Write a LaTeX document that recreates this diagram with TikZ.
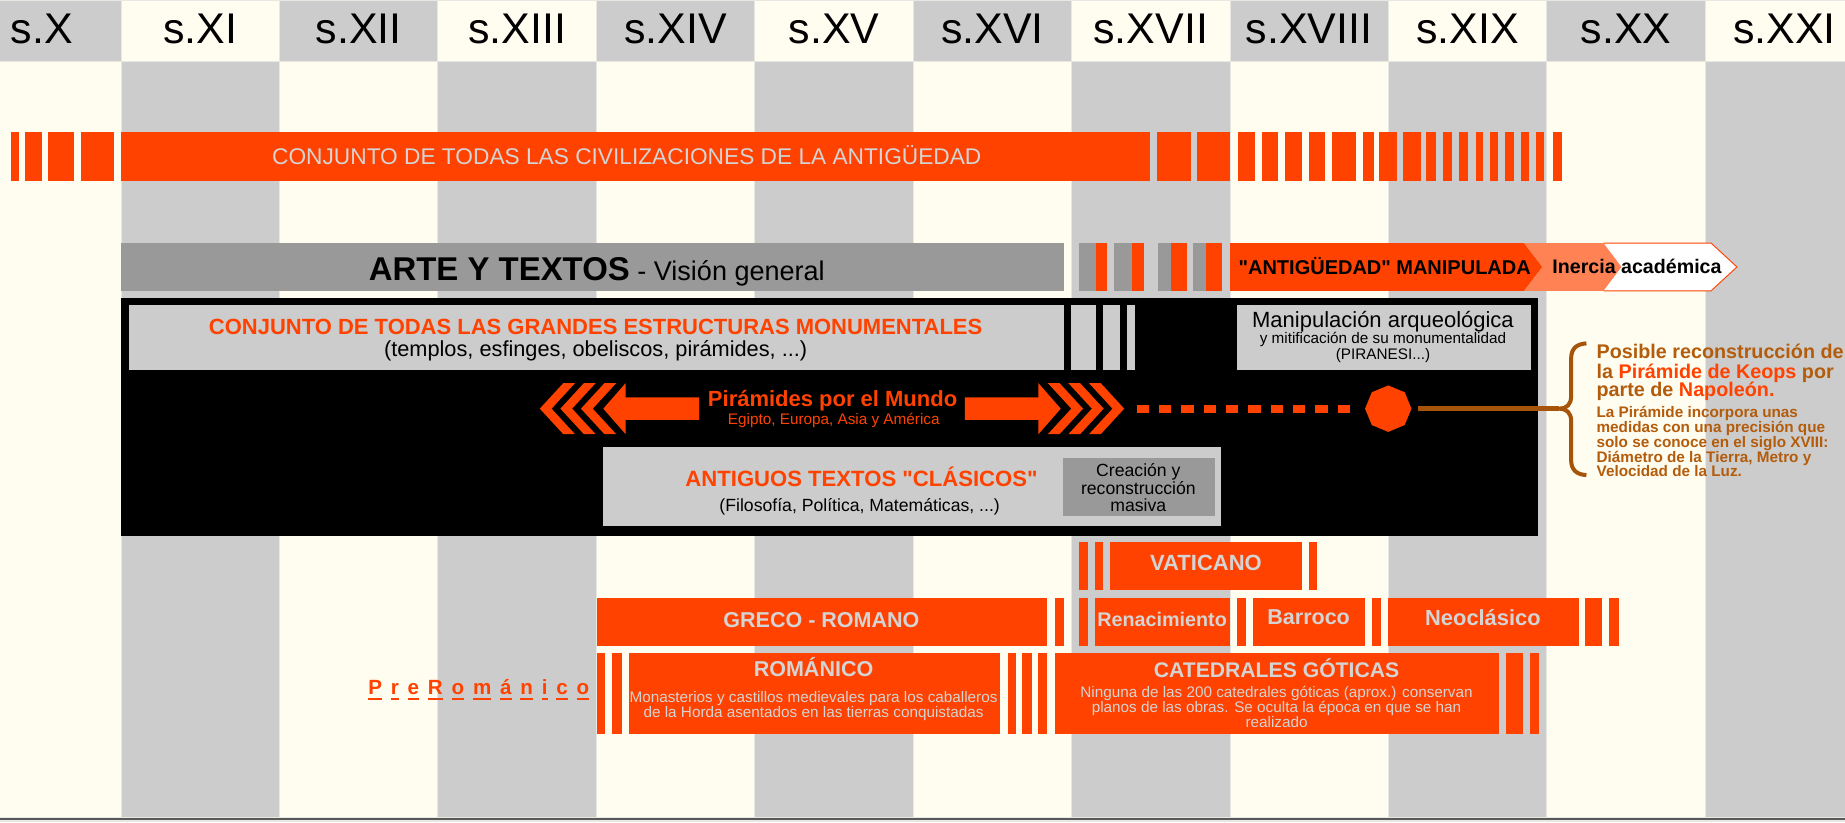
\documentclass[tikz,border=0pt]{standalone}
\usepackage{fontspec}
\setmainfont{Liberation Sans}
\usetikzlibrary{shapes.geometric}

\definecolor{cream}{RGB}{255,252,240}
\definecolor{lgray}{RGB}{204,204,204}
\definecolor{mgray}{RGB}{153,153,153}
\definecolor{orng}{RGB}{255,66,0}
\definecolor{lorng}{RGB}{255,130,85}
\definecolor{pale}{RGB}{212,212,212}
\definecolor{sep}{RGB}{232,232,226}
\definecolor{brn}{RGB}{166,84,10}
\definecolor{brntxt}{RGB}{178,92,12}

\newcommand\fsz[1]{\fontsize{#1}{#1}\selectfont}
\newcommand\ulet[1]{\setbox0\hbox{#1}\rlap{\vrule width\wd0 height -2.8pt depth 4.6pt}\box0}

\begin{document}
\begin{tikzpicture}[
                        x=1pt, y=-1pt,
                        bar/.style={fill=orng},
                        lbl/.style={anchor=base, inner sep=0pt},
                        ontxt/.style={lbl, text=pale, font=\bfseries\fsz{18.3}},
                        smalltxt/.style={lbl, text=pale, font=\fsz{13}},
                        keopstxt/.style={lbl, anchor=base west, text=brntxt, font=\bfseries\fsz{13}}
                    ]
                    \useasboundingbox (0,0) rectangle (1568.9,699);

                    % Centuries
                    \foreach \r [count=\i from 0] in {X,XI,XII,XIII,XIV,XV,XVI,XVII,XVIII,XIX,XX,XXI} {
                        \pgfmathsetmacro{\xa}{-31.7+134.7*\i}
                        \pgfmathsetmacro{\xb}{\xa+134.7}
                        \ifodd\i \def\hcol{cream}\def\bcol{lgray}\else \def\hcol{lgray}\def\bcol{cream}\fi
                        \filldraw[fill=\hcol, draw=sep, line width=0.8] (\xa,0) rectangle (\xb,52);
                        \filldraw[fill=\bcol, draw=sep, line width=0.8] (\xa,52) rectangle (\xb,695.5);
                        \node[lbl, font=\fsz{36.5}] (cent\i) at ({\xa+67.35},37.4) {s.\r};
                    }
                    \fill[black!65] (0,695.5) rectangle (1568.9,697.6);
                    \fill[sep] (0,697.6) rectangle (1568.9,699);

                    % Civilizaciones
                    \fill[bar] (103,112) rectangle (978,153.6);
                    \foreach \a/\b in {9.5/16.5, 21/35.5, 41/63, 69/97, 984/1012.5, 1018/1046, 1053/1067, 1073/1087,
                                       1093/1107, 1113/1127, 1133/1153, 1159/1168, 1173/1188, 1193/1208, 1213/1221,
                                       1227/1235, 1241/1248, 1255/1261, 1267/1274, 1280/1287, 1293/1300, 1306/1313, 1321/1328}
                        \fill[bar] (\a,112) rectangle (\b,153.6);
                    \node[lbl, text=pale, font=\fsz{19.3}] (civil) at (533,139.8) {CONJUNTO DE TODAS LAS CIVILIZACIONES DE LA ANTIGÜEDAD};

                    % Arte y textos
                    \fill[mgray] (103,206.7) rectangle (905,247.3);
                    \foreach \a/\b/\c in {917.8/931.8/941.4, 947.4/962.4/972.8, 984.6/996/1009.5, 1014.7/1025.6/1038.7} {
                        \fill[mgray] (\a,206.7) rectangle (\b,247.3);
                        \fill[bar] (\b,206.7) rectangle (\c,247.3);
                    }
                    \fill[bar] (1046,206.7) -- (1296,206.7) -- (1311.6,227) -- (1296,247.3) -- (1046,247.3) -- cycle;
                    \fill[lorng] (1296,206.7) -- (1363.7,206.7) -- (1379,227) -- (1363.7,247.3) -- (1296,247.3) -- (1311.6,227) -- cycle;
                    \fill[white] (1363.7,206.7) -- (1455,206.7) -- (1477,227) -- (1455,247.3) -- (1363.7,247.3) -- (1379,227) -- cycle;
                    \draw[orng, line width=0.8] (1363.7,206.7) -- (1455,206.7) -- (1477,227) -- (1455,247.3) -- (1363.7,247.3);
                    \node[lbl] (arte) at (507.5,238.5) {{\bfseries\fsz{28}ARTE Y TEXTOS}{\fsz{23} - Visión general}};
                    \node[lbl, font=\bfseries\fsz{17}] (manipulada) at (1177.5,233) {\textquotedbl ANTIGÜEDAD\textquotedbl{} MANIPULADA};
                    \node[lbl, font=\bfseries\fsz{16.7}] (inercia) at (1392,232.5) {Inercia académica};

                    % Estructuras
                    \fill[black] (103,253) rectangle (1308,455.5);
                    \fill[lgray] (109.4,259) rectangle (904.5,314.5);
                    \foreach \a/\b in {910.9/931.8, 938/952, 958/965}
                        \fill[lgray] (\a,259) rectangle (\b,314.5);
                    \fill[lgray] (1052,259) rectangle (1302,314.5);
                    \node[lbl, text=orng, font=\bfseries\fsz{18.7}] (monum) at (506.5,284.7) {CONJUNTO DE TODAS LAS GRANDES ESTRUCTURAS MONUMENTALES};
                    \node[lbl, font=\fsz{18.5}] (templos) at (506.5,303.1) {(templos, esfinges, obeliscos, pirámides, ...)};
                    \node[lbl, font=\fsz{18.7}] (arqueo) at (1176,278.2) {Manipulación arqueológica};
                    \node[lbl, font=\fsz{13}] (mitif) at (1176,292.3) {y mitificación de su monumentalidad};
                    \node[lbl, font=\fsz{13}] (piranesi) at (1176,306) {(PIRANESI...)};

                    % Piramides
                    \fill[bar] (594.5,338) -- (532,338) -- (532,325.8) -- (513,347.5) -- (532,369.2) -- (532,357) -- (594.5,357) -- cycle;
                    \fill[bar] (820.5,338) -- (883,338) -- (883,325.8) -- (902,347.5) -- (883,369.2) -- (883,357) -- (820.5,357) -- cycle;
                    \foreach \t in {459,476.5,494}
                        \fill[bar] (\t,347.5) -- ++(20,-21.7) -- ++(10,0) -- ++(-20,21.7) -- ++(20,21.7) -- ++(-10,0) -- cycle;
                    \foreach \t in {921,938.5,956}
                        \fill[bar] (\t,347.5) -- ++(-20,-21.7) -- ++(-10,0) -- ++(20,21.7) -- ++(-20,21.7) -- ++(10,0) -- cycle;
                    \node[lbl, text=orng, font=\bfseries\fsz{18.7}] (mundo) at (708,345.6) {Pirámides por el Mundo};
                    \node[lbl, text=orng, font=\fsz{13}] (egipto) at (709,361.2) {Egipto, Europa, Asia y América};
                    \coordinate (dotstart) at (966.5,347.5);
                    \coordinate (bracetip) at (1326,347.5);
                    \node[regular polygon, regular polygon sides=8, shape border rotate=22.5, fill=orng,
                          minimum size=39.5, inner sep=0pt] (keops) at (1180.5,347.5) {};

                    % Textos clasicos
                    \fill[lgray] (513,380) rectangle (1038.6,447.6);
                    \fill[mgray] (903.5,389.5) rectangle (1033,438.5);
                    \node[lbl, text=orng, font=\bfseries\fsz{18.8}] (clasicos) at (732.6,413.6) {ANTIGUOS TEXTOS \textquotedbl CLÁSICOS\textquotedbl};
                    \node[lbl, font=\fsz{15}] (filosofia) at (731,434.8) {(Filosofía, Política, Matemáticas, ...)};
                    \node[lbl, font=\fsz{15}] (creacion1) at (968,405.5) {Creación y};
                    \node[lbl, font=\fsz{15}] (creacion2) at (968,420.3) {reconstrucción};
                    \node[lbl, font=\fsz{15}] (creacion3) at (968,434.8) {masiva};

                    % Connections
                    \draw[orng, line width=7, dash pattern=on 10.5pt off 8.5pt, shorten >=8] (dotstart) -- (keops.west);
                    \draw[brn, line width=4, shorten <=5] (keops.east) -- (bracetip);
                    \draw[brn, line width=3.4] (1349,292) .. controls (1340,292.5) and (1336,297) .. (1336,305) -- (1336,337)
                        .. controls (1336,344) and (1332,347.5) .. (bracetip)
                        .. controls (1332,347.5) and (1336,351) .. (1336,358) -- (1336,391)
                        .. controls (1336,399) and (1340,403.5) .. (1349,404);

                    % Napoleon
                    \node[keopstxt, font=\bfseries\fsz{16.8}] (posible1) at (1357.5,304.5) {Posible reconstrucción de};
                    \node[keopstxt, font=\bfseries\fsz{16.8}] (posible2) at (1357.5,321.5) {la \textcolor{orng}{Pirámide de Keops} por};
                    \node[keopstxt, font=\bfseries\fsz{16.8}] (posible3) at (1357.5,337.1) {parte de \textcolor{orng}{Napoleón.}};
                    \node[keopstxt] (medida1) at (1357.5,354.7) {La Pirámide incorpora unas};
                    \node[keopstxt] (medida2) at (1357.5,367.4) {medidas con una precisión que};
                    \node[keopstxt] (medida3) at (1357.5,380.2) {solo se conoce en el siglo XVIII:};
                    \node[keopstxt] (medida4) at (1357.5,392.9) {Diámetro de la Tierra, Metro y};
                    \node[keopstxt] (medida5) at (1357.5,405.1) {Velocidad de la Luz.};

                    % Estilos
                    \foreach \a/\b in {917.5/924.8, 931.3/938.3, 944.2/1106.9, 1112.8/1119.7}
                        \fill[bar] (\a,460.9) rectangle (\b,502);
                    \foreach \a/\b in {507.4/890.5, 897/904.6, 917.5/924.8, 931.3/1046.2, 1052/1059.3, 1065.6/1160.3,
                                       1166.6/1173.9, 1180.5/1342.5, 1348/1362.6, 1368.4/1376.8}
                        \fill[bar] (\a,508.5) rectangle (\b,549.6);
                    \foreach \a/\b in {507.4/514.5, 520.6/528.6, 534.6/850, 857/864, 869/877.5, 883/890.5, 897/1274.6,
                                       1281/1295, 1301.1/1308.7}
                        \fill[bar] (\a,555.2) rectangle (\b,624);
                    \node[ontxt, font=\bfseries\fsz{18.7}] (vaticano) at (1025.5,485.3) {VATICANO};
                    \node[ontxt] (greco) at (698.5,534) {GRECO - ROMANO};
                    \node[ontxt, font=\bfseries\fsz{16.8}] (renac) at (988.2,532.6) {Renacimiento};
                    \node[ontxt] (barroco) at (1112.8,531.2) {Barroco};
                    \node[ontxt, font=\bfseries\fsz{18.6}] (neo) at (1261,531.7) {Neoclásico};
                    \node[ontxt] (romanico) at (691.8,575) {ROMÁNICO};
                    \node[smalltxt] (monast1) at (691.8,597.7) {Monasterios y castillos medievales para los caballeros};
                    \node[smalltxt] (monast2) at (691.8,609.9) {de la Horda asentados en las tierras conquistadas};
                    \node[ontxt, font=\bfseries\fsz{18}] (goticas) at (1085.5,576.5) {CATEDRALES GÓTICAS};
                    \node[smalltxt] (ninguna1) at (1085.5,593.4) {Ninguna de las 200 catedrales góticas (aprox.) conservan};
                    \node[smalltxt] (ninguna2) at (1085.5,606.2) {planos de las obras. Se oculta la época en que se han};
                    \node[smalltxt] (ninguna3) at (1085.5,619) {realizado};
                    \node[lbl, anchor=base west, text=orng, font=\bfseries\fsz{17.5}] (prerom) at (313,590.6)
                        {\foreach \c in {P,r,e,R,o,m,á,n,i,c,o}{\ulet{\c}\kern7.5pt}};
                \end{tikzpicture}
\end{document}
